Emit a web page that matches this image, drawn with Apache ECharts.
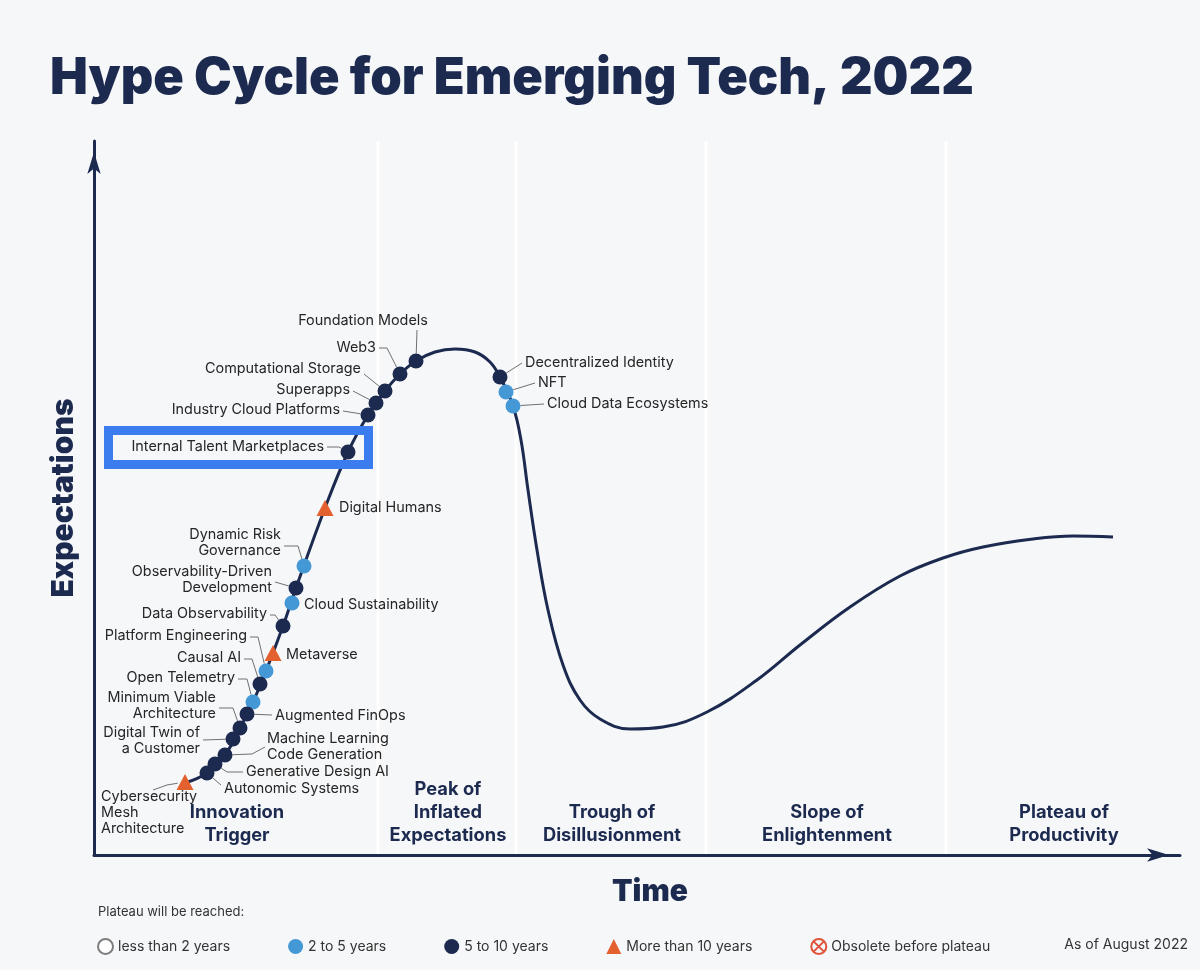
<!DOCTYPE html>
<html><head><meta charset="utf-8">
<script src="https://cdn.jsdelivr.net/npm/echarts@6/dist/echarts.min.js"></script>
<style>html,body{margin:0;padding:0;background:#f6f7f9}#c{width:1200px;height:970px}</style>
</head><body><div id="c"></div>
<script>
// ---- data ----
const techNames = [
  'Cybersecurity\nMesh\nArchitecture', 'Autonomic Systems', 'Generative Design AI',
  'Machine Learning\nCode Generation', 'Digital Twin of\na Customer', 'Minimum Viable\nArchitecture',
  'Augmented FinOps', 'Open Telemetry', 'Causal AI', 'Platform Engineering', 'Metaverse',
  'Data Observability', 'Cloud Sustainability', 'Observability-Driven\nDevelopment',
  'Dynamic Risk\nGovernance', 'Digital Humans', 'Internal Talent Marketplaces',
  'Industry Cloud Platforms', 'Superapps', 'Computational Storage', 'Web3', 'Foundation Models',
  'Decentralized Identity', 'NFT', 'Cloud Data Ecosystems'
];
const techX = [9.1, 11.3, 12.1, 13.1, 13.9, 14.6, 15.3, 15.9, 16.6, 17.2, 17.9, 18.9, 19.8, 20.2, 21.0, 23.1, 25.4, 27.4, 28.2, 29.1, 30.6, 32.2, 40.6, 41.2, 41.9];
const techY = [7.3, 8.2, 9.1, 10.0, 11.6, 12.7, 14.1, 15.3, 17.1, 18.4, 20.2, 22.9, 25.2, 26.7, 28.9, 34.7, 40.3, 44.0, 45.2, 46.4, 48.1, 49.4, 47.8, 46.3, 44.9];
// 0: <2 yrs, 1: 2-5 yrs, 2: 5-10 yrs, 3: >10 yrs, 4: obsolete
const techPlateau = [3, 2, 2, 2, 2, 2, 2, 1, 2, 1, 3, 2, 1, 2, 1, 3, 2, 2, 2, 2, 2, 2, 2, 1, 1];
const plateauCategories = ['less than 2 years', '2 to 5 years', '5 to 10 years', 'More than 10 years', 'Obsolete before plateau'];
const highlighted = ['Internal Talent Marketplaces'];

const curveX = [9.1, 11.3, 13.1, 14.6, 15.9, 17.2, 18.9, 20.2, 23.1, 25.4, 27.4, 29.1, 30.6, 32.2, 34.1, 36.1, 38.1, 39.6, 40.6, 41.9, 42.7, 43.4, 44.3, 45.4, 46.9, 48.6, 50.6, 53.6, 56.9, 61.3, 66.3, 70.6, 75.6, 80.6, 84.9, 88.9, 93.9, 97.9, 101.9];
const curveY = [7.2, 8.2, 10.0, 12.7, 15.3, 18.4, 22.9, 26.7, 34.7, 40.3, 44.0, 46.4, 48.1, 49.4, 50.3, 50.6, 50.3, 49.3, 47.8, 44.9, 41.5, 36.5, 30.5, 24.5, 19.0, 15.5, 13.6, 12.6, 12.8, 14.3, 17.5, 21.0, 24.8, 27.9, 29.7, 30.8, 31.6, 31.9, 31.8];

const phaseNames = ['Innovation\nTrigger', 'Peak of\nInflated\nExpectations', 'Trough of\nDisillusionment', 'Slope of\nEnlightenment', 'Plateau of\nProductivity'];
const phaseBounds = [0, 28.4, 42.2, 61.2, 85.2, 108.6];
const xMax = 108.6, yMax = 71.4;

// ---- label layout (pixel offsets from each marker) ----
const labelLayout = [
  {ox: -84, oy: 7, align: 'left', va: 'top', lead: [[-32, 8], [-18, 3]]},
  {ox: 17, oy: 16, align: 'left', h: 0, ly: -4},
  {ox: 31, oy: 8, align: 'left', h: 16},
  {ox: 42, oy: -8, align: 'left', lead: [[40, -8], [27, -1]]},
  {ox: -33, oy: 2, align: 'right', h: 0, ly: -1},
  {ox: -24, oy: -22, align: 'right', h: 14, ly: 2},
  {ox: 28, oy: 2, align: 'left', h: 0, ly: -1},
  {ox: -18, oy: -24, align: 'right', h: 9, ly: 1},
  {ox: -19, oy: -26, align: 'right', h: 8, ly: 1},
  {ox: -19, oy: -35, align: 'right', h: 8, ly: 1},
  {ox: 13, oy: 2, align: 'left'},
  {ox: -16, oy: -12, align: 'right', h: 5, ly: 1},
  {ox: 12, oy: 2, align: 'left'},
  {ox: -24, oy: -8, align: 'right', h: 0, ly: 2},
  {ox: -23, oy: -23, align: 'right', h: 14, ly: 3},
  {ox: 14, oy: 0, align: 'left'},
  {ox: -24, oy: -5, align: 'right', h: 12, box: [-239.5, -21.5, 260, 34]},
  {ox: -28, oy: -5, align: 'right', h: 0, ly: 1},
  {ox: -26, oy: -13, align: 'right', h: 0, ly: 1},
  {ox: -24, oy: -22, align: 'right', h: 0, ly: 5},
  {ox: -24, oy: -26, align: 'right', h: 8},
  {ox: -53, oy: -40, align: 'center', lead: [[1, -31], [1, -31]]},
  {ox: 25, oy: -14, align: 'left', h: 0},
  {ox: 32, oy: -9, align: 'left', h: 0},
  {ox: 34, oy: -2, align: 'left', h: 0}
];

const NAVY = '#1c2a4f';
const FONT = 'Inter, "Noto Sans", sans-serif';
const catStyles = [
  {symbol: 'circle', size: 15, itemStyle: {color: '#ffffff', borderColor: '#7d7d7d', borderWidth: 1.2, opacity: 1}},
  {symbol: 'circle', size: 15, itemStyle: {color: '#4598d6', opacity: 1}},
  {symbol: 'circle', size: 15, itemStyle: {color: NAVY, opacity: 1}},
  {symbol: 'triangle', size: [17, 16], itemStyle: {color: '#e2612f', opacity: 1}},
  {symbol: 'path://M2,12A10,10,0,1,1,22,12A10,10,0,1,1,2,12Z M5.5,5.5L18.5,18.5M18.5,5.5L5.5,18.5', size: 15,
   itemStyle: {color: 'rgba(0,0,0,0)', borderColor: '#e0533b', borderWidth: 1.3, opacity: 1}}
];

const chart = echarts.init(document.getElementById('c'), null, {renderer: 'canvas'});

const scatterSeries = plateauCategories.map((cat, k) => ({
  type: 'scatter', name: cat, z: 6,
  symbol: catStyles[k].symbol, symbolSize: catStyles[k].size,
  itemStyle: catStyles[k].itemStyle,
  data: techNames.map((n, i) => techPlateau[i] === k ? [techX[i], techY[i]] : null).filter(d => d)
}));

const option = {
  backgroundColor: '#f6f7f9',
  animation: false,
  title: {
    text: 'Hype Cycle for Emerging Tech, 2022', left: 45, top: 48,
    textStyle: {fontFamily: FONT, fontWeight: 900, fontSize: 50.5, color: NAVY}
  },
  grid: {left: 94, right: 20, top: 141, bottom: 115},
  xAxis: {
    type: 'value', min: 0, max: xMax, z: 8,
    axisLine: {show: true, lineStyle: {color: NAVY, width: 3}, symbol: ['none', 'arrow'], symbolSize: [10, 22], symbolOffset: [0, -11]},
    axisTick: {show: false}, axisLabel: {show: false}, splitLine: {show: false},
    name: 'Time', nameLocation: 'middle', nameGap: 22,
    nameTextStyle: {fontFamily: FONT, fontWeight: 900, fontSize: 30, color: NAVY, padding: [0, 0, 0, 26]}
  },
  yAxis: {
    type: 'value', min: 0, max: yMax, z: 8,
    axisLine: {show: true, lineStyle: {color: NAVY, width: 3}, symbol: ['none', 'arrow'], symbolSize: [10, 22], symbolOffset: [0, -11]},
    axisTick: {show: false}, axisLabel: {show: false}, splitLine: {show: false},
    name: 'Expectations', nameLocation: 'middle', nameGap: 15,
    nameTextStyle: {fontFamily: FONT, fontWeight: 900, fontSize: 30, color: NAVY}
  },
  legend: {
    data: plateauCategories, left: 97, top: 938, itemGap: 58, itemWidth: 15, itemHeight: 15, padding: 0,
    selectedMode: false,
    textStyle: {fontFamily: FONT, fontSize: 14, color: '#333'}
  },
  graphic: [
    {type: 'text', left: 98, top: 906, style: {text: 'Plateau will be reached:', font: '13px ' + FONT, fill: '#333'}},
    {type: 'text', right: 12, top: 938, style: {text: 'As of August 2022', font: '14px ' + FONT, fill: '#333'}}
  ],
  series: [
    {
      type: 'custom', name: 'dividers', z: 1, silent: true,
      data: phaseBounds.slice(1, -1).map(x => [x]),
      renderItem: (params, api) => {
        const a = api.coord([api.value(0), 0]);
        const b = api.coord([api.value(0), yMax]);
        return {type: 'line', shape: {x1: a[0], y1: a[1], x2: b[0], y2: b[1]}, style: {stroke: '#ffffff', lineWidth: 3}};
      }
    },
    {
      type: 'custom', name: 'phases', z: 2, silent: true,
      data: phaseNames.map((n, i) => [(phaseBounds[i] + phaseBounds[i + 1]) / 2, 0, i]),
      renderItem: (params, api) => {
        const p = api.coord([api.value(0), api.value(1)]);
        return {type: 'text', x: p[0] + 1, y: p[1] - 8, style: {
          text: phaseNames[api.value(2)], align: 'center', verticalAlign: 'bottom',
          font: 'bold 18.3px ' + FONT, lineHeight: 23, fill: NAVY}};
      }
    },
    {
      type: 'line', name: 'curve', z: 3, silent: true, smooth: 0.4, showSymbol: false,
      lineStyle: {color: NAVY, width: 3},
      data: curveX.map((x, i) => [x, curveY[i]])
    },
    {
      type: 'custom', name: 'labels', z: 4, silent: true,
      data: techNames.map((n, i) => [techX[i], techY[i], i]),
      renderItem: (params, api) => {
        const i = api.value(2);
        const p = api.coord([api.value(0), api.value(1)]);
        const L = labelLayout[i];
        const ax = p[0] + L.ox, ay = p[1] + L.oy;
        const children = [];
        if (L.box && highlighted.indexOf(techNames[i]) >= 0) {
          children.push({type: 'rect', shape: {x: p[0] + L.box[0], y: p[1] + L.box[1], width: L.box[2], height: L.box[3]},
            style: {fill: 'none', stroke: '#3b7cee', lineWidth: 9}});
        }
        let pts = null;
        if (L.lead) pts = L.lead.map(q => [p[0] + q[0], p[1] + q[1]]);
        else if (L.h != null) {
          const dir = L.align === 'right' ? 1 : -1;
          const sx = ax + dir * 3, sy = ay + (L.ly || 0);
          pts = [[sx, sy], [sx + dir * L.h, sy]];
        }
        if (pts) {
          const e = pts[pts.length - 1];
          const dx = p[0] - e[0], dy = p[1] - e[1];
          const d = Math.hypot(dx, dy) || 1;
          pts.push([p[0] - dx / d * 7.5, p[1] - dy / d * 7.5]);
          children.push({type: 'polyline', shape: {points: pts}, style: {stroke: '#707070', lineWidth: 1, fill: null}});
        }
        children.push({type: 'text', x: ax, y: ay, style: {
          text: techNames[i], align: L.align, verticalAlign: L.va || 'middle',
          font: '14.4px ' + FONT, fill: '#262626', lineHeight: 16}});
        return {type: 'group', children};
      }
    }
  ].concat(scatterSeries)
};
chart.setOption(option);
</script>
</body></html>
